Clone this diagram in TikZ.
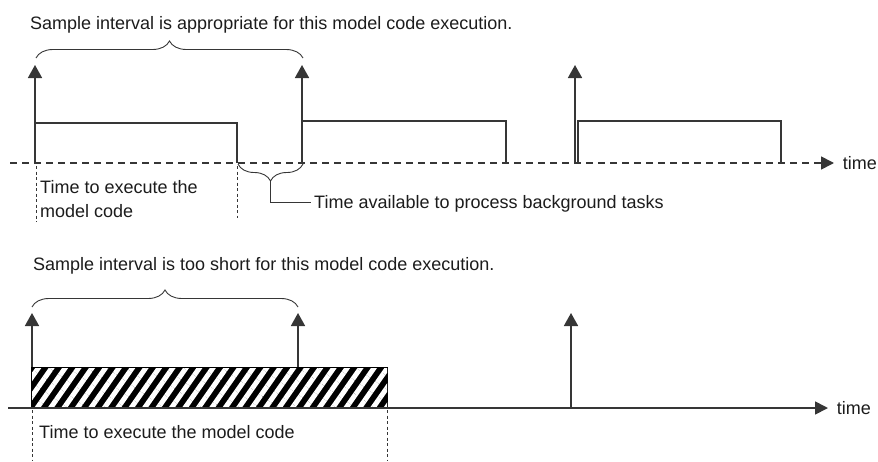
\documentclass[tikz,border=0pt]{standalone}
\usepackage{fontspec}
\setmainfont{Liberation Sans}
\usepackage{tikz}
\usetikzlibrary{arrows.meta,calc,patterns.meta,decorations.pathreplacing,positioning}
\definecolor{traceline}{HTML}{363636}
\definecolor{labeltext}{HTML}{1C1C1C}

\begin{document}
\begin{tikzpicture}[x=1pt,y=-1pt,
  trace/.style={traceline,line width=1.7pt},
  tickarrow/.style={trace,-{Triangle[width=14pt,length=13pt]}},
  timeaxis/.style={trace,-{Triangle[width=13pt,length=13pt]}},
  guide/.style={traceline,line width=0.9pt,dash pattern=on 3pt off 2.5pt},
  span/.style={traceline,line width=0.9pt,decorate,decoration={brace,amplitude=17pt}},
  caption/.style={labeltext,font=\fontsize{18}{24}\selectfont,inner sep=0pt,anchor=base west},
  busy/.style={draw=black,line width=1.6pt,fill=black,
    postaction={pattern={Lines[angle=55,distance=11pt,line width=5pt]},pattern color=white}}]
  \useasboundingbox (0,0) rectangle (878,461);
  \node[caption] (title1) at (30,29) {Sample interval is appropriate for this model code execution.};
  \draw[trace,dash pattern=on 7pt off 5pt] (10,163) -- (822,163);
  \draw[timeaxis] (816,163) -- (834,163) node[caption,anchor=west,xshift=8pt] (time1) {time};
  \foreach \s/\e/\h in {35/237/123,302/506/121,578/781/121}
    \draw[trace] (\s,163) |- (\e,\h) -- (\e,163);
  \foreach \x in {35,302,575}
    \draw[tickarrow] (\x,163) -- (\x,65);
  \draw[span] (36,58) -- (303,58);
  \draw[span] (303,164) -- (238,164);
  \coordinate (gaptip) at (270.5,181);
  \draw[guide] (36,166) -- (36,222);
  \draw[guide] (237,166) -- (237,218);
  \node[caption,anchor=north west,align=left] (exec1) at (40,180) {Time to execute the\\model code};
  \node[caption] (idle) at (314,208) {Time available to process background tasks};
  \draw[traceline,line width=0.9pt] (gaptip) |- ($(idle.base west)+(-3,-6)$);

  \node[caption] (title2) at (33,270) {Sample interval is too short for this model code execution.};
  \draw[span] (32,307) -- (298,307);
  \foreach \x in {32,298,571}
    \draw[tickarrow] (\x,408) -- (\x,313);
  \draw[busy] (32,368) rectangle (387,408);
  \draw[timeaxis] (8,408) -- (828,408) node[caption,anchor=west,xshift=8pt] (time2) {time};
  \draw[guide] (32,410) -- (32,461);
  \draw[guide] (387,410) -- (387,461);
  \node[caption] (exec2) at (39,438) {Time to execute the model code};
\end{tikzpicture}
\end{document}
